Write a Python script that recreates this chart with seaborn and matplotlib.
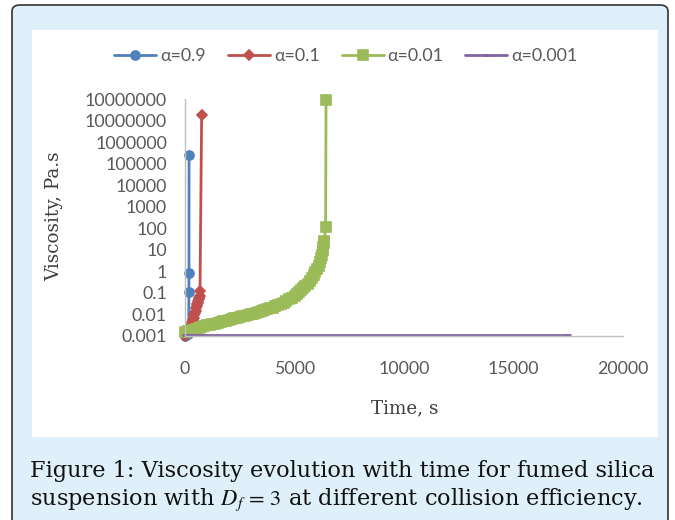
import matplotlib
matplotlib.use("Agg")
import matplotlib.pyplot as plt
import numpy as np
import pandas as pd
import seaborn as sns
from matplotlib.patches import FancyBboxPatch, Rectangle
from matplotlib.ticker import NullLocator

# ---- data: viscosity (Pa.s) vs time (s) for each collision efficiency ----
t_a09 = [0, 150, 170, 178, 182, 185]
v_a09 = [0.001, 0.0012, 0.002, 0.11, 0.8, 2.5e5]

t_a01 = [0, 30, 60, 90, 120, 150, 180, 210, 240, 270, 300, 330, 360, 390,
         420, 450, 480, 505, 530, 555, 580, 605, 630, 650, 670, 685, 760]
v_a01 = [0.001, 0.0011, 0.0012, 0.0013, 0.0015, 0.0017, 0.0019, 0.0022,
         0.0025, 0.0030, 0.0035, 0.0044, 0.0055, 0.007, 0.009, 0.012, 0.015,
         0.019, 0.024, 0.029, 0.035, 0.042, 0.05, 0.06, 0.075, 0.12, 1.8e7]

t_a001 = [0, 125, 250, 375, 500, 625, 750, 875, 1000, 1125, 1250, 1375, 1500,
          1625, 1750, 1875, 2000, 2125, 2250, 2375, 2500, 2625, 2750, 2875,
          3000, 3125, 3250, 3375, 3500, 3625, 3750, 3875, 4000, 4125, 4250,
          4375, 4500, 4625, 4750, 4875, 5000, 5100, 5200, 5300, 5400, 5500,
          5600, 5700, 5800, 5875, 5950, 6025, 6100, 6150, 6200, 6240, 6280,
          6310, 6330, 6350, 6420, 6440]
v_a001 = [0.0016, 0.0017, 0.0018, 0.0020, 0.0022, 0.0024, 0.0026, 0.0028,
          0.0031, 0.0033, 0.0036, 0.0038, 0.0041, 0.0045, 0.0048, 0.0052,
          0.0056, 0.0060, 0.0065, 0.0070, 0.0075, 0.0081, 0.0087, 0.0094,
          0.010, 0.011, 0.012, 0.013, 0.014, 0.0155, 0.017, 0.019, 0.021,
          0.024, 0.027, 0.031, 0.035, 0.042, 0.050, 0.061, 0.075, 0.09, 0.11,
          0.14, 0.17, 0.21, 0.27, 0.37, 0.5, 0.68, 0.9, 1.3, 1.8, 2.7, 4.0,
          6.0, 10.0, 14.0, 20.0, 25.0, 110.0, 9e7]

t_a0001 = [0, 17500]
v_a0001 = [0.0011, 0.0011]

series_names = ["α=0.9", "α=0.1", "α=0.01", "α=0.001"]
series_colors = ["#4F81BD", "#C0504D", "#9BBB59", "#8064A2"]
series_markers = ["o", "D", "s", "_"]
series_msize = [6.5, 5.5, 7.5, 4]

x_ticks = [0, 5000, 10000, 15000, 20000]
x_ticklabels = ["0", "5000", "10000", "15000", "20000"]
y_exponents = list(range(-3, 9))
y_ticklabels = ["0.001", "0.01", "0.1", "1", "10", "100", "1000", "10000",
                "100000", "1000000", "10000000", "10000000"]

caption_line1 = "Figure 1: Viscosity evolution with time for fumed silica"
caption_line2 = "suspension with $D_f\\,=\\,3$ at different collision efficiency."

# ---- build long-form table ----
frames = []
for name, t, v in zip(series_names, [t_a09, t_a01, t_a001, t_a0001],
                      [v_a09, v_a01, v_a001, v_a0001]):
    frames.append(pd.DataFrame({"time": t, "viscosity": v, "series": name}))
df = pd.concat(frames, ignore_index=True)

sns.set_theme(style="white")
plt.rcParams["font.family"] = ["Lato", "DejaVu Sans"]
plt.rcParams["mathtext.fontset"] = "stix"

SERIF = ["DejaVu Serif", "Liberation Serif"]
W, H = 675, 520
fig = plt.figure(figsize=(W / 100, H / 100), dpi=100)
fig.patch.set_facecolor("white")


def fx(px):
    return px / W


def fy(py):
    return 1 - py / H


# framed light-blue card with a white chart panel
card = FancyBboxPatch((fx(12), fy(530)), fx(668) - fx(12), fy(5) - fy(530),
                      boxstyle="round,pad=0,rounding_size=0.012",
                      transform=fig.transFigure, fc="#dff0fb", ec="#333333",
                      lw=1.2, zorder=-2)
fig.patches.append(card)
panel = Rectangle((fx(32), fy(437)), fx(658) - fx(32), fy(30) - fy(437),
                  transform=fig.transFigure, fc="white", ec="none", zorder=-1)
fig.patches.append(panel)

ax = fig.add_axes([fx(185), fy(336), fx(623) - fx(185), fy(99) - fy(336)])
ax.set_facecolor("none")
ax.set_zorder(2)

for name, col, mk, ms in zip(series_names, series_colors, series_markers,
                             series_msize):
    sub = df[df["series"] == name]
    sns.lineplot(data=sub, x="time", y="viscosity", ax=ax, color=col,
                 marker=mk, markersize=ms, markeredgecolor=col,
                 markeredgewidth=1.2 if mk != "_" else 2, linewidth=2,
                 estimator=None, sort=False, label=name, clip_on=False)

ax.set_yscale("log")
ax.set_ylim(1e-3, 1e8)
ax.set_xlim(0, 20000)
ax.set_yticks([10.0 ** e for e in y_exponents])
ax.set_yticklabels(y_ticklabels)
ax.yaxis.set_minor_locator(NullLocator())
ax.set_xticks(x_ticks)
ax.set_xticklabels(x_ticklabels)

for s in ["top", "right"]:
    ax.spines[s].set_visible(False)
for s in ["left", "bottom"]:
    ax.spines[s].set_color("#bfbfbf")
    ax.spines[s].set_linewidth(1)

ax.tick_params(axis="both", direction="in", length=5, width=1,
               color="#bfbfbf", labelcolor="#595959", labelsize=12.8)
ax.tick_params(axis="x", pad=18)
ax.tick_params(axis="y", pad=13)
ax.set_xlabel("")
ax.set_ylabel("")

fig.text(fx(54), fy(216), "Viscosity, Pa.s", rotation=90, ha="center",
         va="center", family=SERIF, fontsize=13.2, color="#404040")
fig.text(fx(405), fy(408), "Time, s", ha="center", va="center",
         family=SERIF, fontsize=13.2, color="#404040")

handles, labels = ax.get_legend_handles_labels()
ax.get_legend().remove()
fig.legend(handles, labels, loc="center", bbox_to_anchor=(fx(346), fy(56)),
           ncol=4, frameon=False, fontsize=12.8, labelcolor="#595959",
           handlelength=2.36, handletextpad=0.22, columnspacing=1.24)

fig.text(fx(30), fy(477), caption_line1, ha="left", va="baseline",
         family=SERIF, fontsize=16.2, color="#111111")
fig.text(fx(30), fy(505), caption_line2, ha="left", va="baseline",
         family=SERIF, fontsize=16.2, color="#111111")

fig.savefig("out.png", dpi=100, facecolor="white")
